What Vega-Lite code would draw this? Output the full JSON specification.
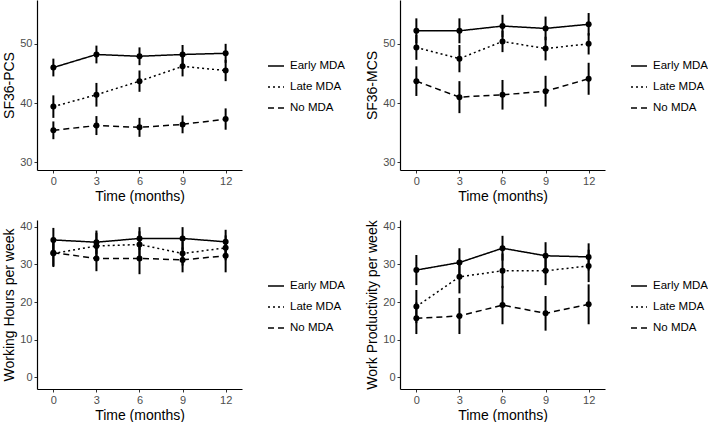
{
  "$schema": "https://vega.github.io/schema/vega-lite/v6.json",
  "padding": {"left": 2, "top": 0, "right": 0, "bottom": 0},
  "background": "white",
  "config": {
    "view": {"stroke": null},
    "font": "Liberation Sans",
    "axis": {
      "grid": false, "domainColor": "black", "domainWidth": 1.2,
      "tickColor": "#333333", "tickWidth": 1, "tickSize": 3,
      "labelColor": "#4d4d4d", "labelFontSize": 11, "labelFont": "Liberation Sans", "labelPadding": 2,
      "titleFont": "Liberation Sans", "titleFontSize": 14, "titleFontWeight": "normal", "titleColor": "black", "titlePadding": 3
    },
    "legend": {
      "orient": "none", "legendX": 230, "legendY": 57, "padding": 0,
      "symbolType": "stroke", "symbolSize": 256, "symbolStrokeWidth": 1.5, "symbolStrokeColor": "black",
      "labelFontSize": 11.5, "labelFont": "Liberation Sans", "labelColor": "black", "labelOffset": 5, "rowPadding": 6
    }
  },
  "datasets": {
    "d": [
      {"m": "PCS", "g": "Early MDA", "t": 0, "v": 46.0, "lo": 44.5, "hi": 47.5},
      {"m": "PCS", "g": "Early MDA", "t": 3, "v": 48.2, "lo": 46.7, "hi": 49.7},
      {"m": "PCS", "g": "Early MDA", "t": 6, "v": 47.9, "lo": 46.4, "hi": 49.4},
      {"m": "PCS", "g": "Early MDA", "t": 9, "v": 48.2, "lo": 46.6, "hi": 49.8},
      {"m": "PCS", "g": "Early MDA", "t": 12, "v": 48.4, "lo": 46.8, "hi": 50.0},
      {"m": "PCS", "g": "Late MDA", "t": 0, "v": 39.4, "lo": 37.5, "hi": 41.3},
      {"m": "PCS", "g": "Late MDA", "t": 3, "v": 41.4, "lo": 39.4, "hi": 43.4},
      {"m": "PCS", "g": "Late MDA", "t": 6, "v": 43.7, "lo": 41.9, "hi": 45.5},
      {"m": "PCS", "g": "Late MDA", "t": 9, "v": 46.2, "lo": 44.5, "hi": 47.9},
      {"m": "PCS", "g": "Late MDA", "t": 12, "v": 45.5, "lo": 43.7, "hi": 47.3},
      {"m": "PCS", "g": "No MDA", "t": 0, "v": 35.4, "lo": 33.9, "hi": 36.9},
      {"m": "PCS", "g": "No MDA", "t": 3, "v": 36.2, "lo": 34.6, "hi": 37.8},
      {"m": "PCS", "g": "No MDA", "t": 6, "v": 35.9, "lo": 34.3, "hi": 37.5},
      {"m": "PCS", "g": "No MDA", "t": 9, "v": 36.4, "lo": 34.9, "hi": 37.9},
      {"m": "PCS", "g": "No MDA", "t": 12, "v": 37.3, "lo": 35.5, "hi": 39.1},
      {"m": "MCS", "g": "Early MDA", "t": 0, "v": 52.2, "lo": 50.1, "hi": 54.3},
      {"m": "MCS", "g": "Early MDA", "t": 3, "v": 52.2, "lo": 50.1, "hi": 54.3},
      {"m": "MCS", "g": "Early MDA", "t": 6, "v": 53.0, "lo": 51.1, "hi": 54.9},
      {"m": "MCS", "g": "Early MDA", "t": 9, "v": 52.6, "lo": 50.6, "hi": 54.6},
      {"m": "MCS", "g": "Early MDA", "t": 12, "v": 53.3, "lo": 51.4, "hi": 55.2},
      {"m": "MCS", "g": "Late MDA", "t": 0, "v": 49.4, "lo": 47.3, "hi": 51.5},
      {"m": "MCS", "g": "Late MDA", "t": 3, "v": 47.5, "lo": 45.2, "hi": 49.8},
      {"m": "MCS", "g": "Late MDA", "t": 6, "v": 50.4, "lo": 48.6, "hi": 52.2},
      {"m": "MCS", "g": "Late MDA", "t": 9, "v": 49.2, "lo": 47.2, "hi": 51.2},
      {"m": "MCS", "g": "Late MDA", "t": 12, "v": 50.0, "lo": 48.2, "hi": 51.8},
      {"m": "MCS", "g": "No MDA", "t": 0, "v": 43.7, "lo": 41.2, "hi": 46.2},
      {"m": "MCS", "g": "No MDA", "t": 3, "v": 41.0, "lo": 38.3, "hi": 43.7},
      {"m": "MCS", "g": "No MDA", "t": 6, "v": 41.4, "lo": 38.9, "hi": 43.9},
      {"m": "MCS", "g": "No MDA", "t": 9, "v": 42.0, "lo": 39.4, "hi": 44.6},
      {"m": "MCS", "g": "No MDA", "t": 12, "v": 44.1, "lo": 41.4, "hi": 46.8},
      {"m": "WH", "g": "Early MDA", "t": 0, "v": 36.5, "lo": 33.3, "hi": 39.7},
      {"m": "WH", "g": "Early MDA", "t": 3, "v": 35.9, "lo": 32.8, "hi": 39.0},
      {"m": "WH", "g": "Early MDA", "t": 6, "v": 36.9, "lo": 33.9, "hi": 39.9},
      {"m": "WH", "g": "Early MDA", "t": 9, "v": 36.9, "lo": 33.9, "hi": 39.9},
      {"m": "WH", "g": "Early MDA", "t": 12, "v": 36.0, "lo": 32.8, "hi": 39.2},
      {"m": "WH", "g": "Late MDA", "t": 0, "v": 32.9, "lo": 29.6, "hi": 36.2},
      {"m": "WH", "g": "Late MDA", "t": 3, "v": 34.9, "lo": 31.4, "hi": 38.4},
      {"m": "WH", "g": "Late MDA", "t": 6, "v": 35.3, "lo": 31.8, "hi": 38.8},
      {"m": "WH", "g": "Late MDA", "t": 9, "v": 32.9, "lo": 29.7, "hi": 36.1},
      {"m": "WH", "g": "Late MDA", "t": 12, "v": 34.4, "lo": 31.1, "hi": 37.7},
      {"m": "WH", "g": "No MDA", "t": 0, "v": 33.1, "lo": 29.3, "hi": 36.9},
      {"m": "WH", "g": "No MDA", "t": 3, "v": 31.6, "lo": 28.2, "hi": 35.0},
      {"m": "WH", "g": "No MDA", "t": 6, "v": 31.6, "lo": 27.4, "hi": 35.8},
      {"m": "WH", "g": "No MDA", "t": 9, "v": 31.2, "lo": 27.9, "hi": 34.5},
      {"m": "WH", "g": "No MDA", "t": 12, "v": 32.3, "lo": 27.9, "hi": 36.7},
      {"m": "WP", "g": "Early MDA", "t": 0, "v": 28.5, "lo": 24.5, "hi": 32.5},
      {"m": "WP", "g": "Early MDA", "t": 3, "v": 30.5, "lo": 26.7, "hi": 34.3},
      {"m": "WP", "g": "Early MDA", "t": 6, "v": 34.3, "lo": 31.0, "hi": 37.6},
      {"m": "WP", "g": "Early MDA", "t": 9, "v": 32.3, "lo": 28.7, "hi": 35.9},
      {"m": "WP", "g": "Early MDA", "t": 12, "v": 32.0, "lo": 28.4, "hi": 35.6},
      {"m": "WP", "g": "Late MDA", "t": 0, "v": 18.8, "lo": 14.4, "hi": 23.2},
      {"m": "WP", "g": "Late MDA", "t": 3, "v": 26.7, "lo": 22.3, "hi": 31.1},
      {"m": "WP", "g": "Late MDA", "t": 6, "v": 28.3, "lo": 23.7, "hi": 32.9},
      {"m": "WP", "g": "Late MDA", "t": 9, "v": 28.3, "lo": 24.5, "hi": 32.1},
      {"m": "WP", "g": "Late MDA", "t": 12, "v": 29.6, "lo": 25.3, "hi": 33.9},
      {"m": "WP", "g": "No MDA", "t": 0, "v": 15.7, "lo": 11.5, "hi": 19.9},
      {"m": "WP", "g": "No MDA", "t": 3, "v": 16.3, "lo": 11.5, "hi": 21.1},
      {"m": "WP", "g": "No MDA", "t": 6, "v": 19.2, "lo": 14.1, "hi": 24.3},
      {"m": "WP", "g": "No MDA", "t": 9, "v": 17.0, "lo": 12.4, "hi": 21.6},
      {"m": "WP", "g": "No MDA", "t": 12, "v": 19.4, "lo": 14.1, "hi": 24.7}
    ]
  },
  "spacing": 16,
  "resolve": {"scale": {"strokeDash": "independent"}, "legend": {"strokeDash": "independent"}},
  "vconcat": [
    {
      "spacing": 20,
      "resolve": {"scale": {"strokeDash": "independent"}, "legend": {"strokeDash": "independent"}},
      "hconcat": [
        {
          "width": 205, "height": 170,
          "data": {"name": "d"},
          "transform": [{"filter": "datum.m == 'PCS'"}],
          "encoding": {"x": {"field": "t", "type": "quantitative", "scale": {"domain": [-1.14, 13.14], "nice": false, "zero": false}, "axis": {"values": [0, 3, 6, 9, 12], "title": "Time (months)"}}},
          "layer": [
            {"mark": {"type": "rule", "strokeWidth": 2, "color": "black"}, "encoding": {"y": {"field": "lo", "type": "quantitative", "scale": {"domain": [28.7, 57.4], "nice": false, "zero": false}, "axis": {"values": [30, 35, 40, 45, 50, 55], "title": "SF36-PCS"}}, "y2": {"field": "hi"}}},
            {"mark": {"type": "line", "strokeWidth": 1.5, "color": "black"}, "encoding": {"y": {"field": "v", "type": "quantitative", "title": "SF36-PCS"}, "strokeDash": {"field": "g", "type": "nominal", "scale": {"domain": ["Early MDA", "Late MDA", "No MDA"], "range": [[1, 0], [2, 3], [6, 4]]}, "legend": {"title": null}}}},
            {"mark": {"type": "point", "filled": true, "size": 36, "color": "black", "opacity": 1}, "encoding": {"y": {"field": "v", "type": "quantitative", "title": "SF36-PCS"}}}
          ]
        },
        {
          "width": 205, "height": 170,
          "data": {"name": "d"},
          "transform": [{"filter": "datum.m == 'MCS'"}],
          "encoding": {"x": {"field": "t", "type": "quantitative", "scale": {"domain": [-1.14, 13.14], "nice": false, "zero": false}, "axis": {"values": [0, 3, 6, 9, 12], "title": "Time (months)"}}},
          "layer": [
            {"mark": {"type": "rule", "strokeWidth": 2, "color": "black"}, "encoding": {"y": {"field": "lo", "type": "quantitative", "scale": {"domain": [28.7, 57.4], "nice": false, "zero": false}, "axis": {"values": [30, 35, 40, 45, 50, 55], "title": "SF36-MCS"}}, "y2": {"field": "hi"}}},
            {"mark": {"type": "line", "strokeWidth": 1.5, "color": "black"}, "encoding": {"y": {"field": "v", "type": "quantitative", "title": "SF36-MCS"}, "strokeDash": {"field": "g", "type": "nominal", "scale": {"domain": ["Early MDA", "Late MDA", "No MDA"], "range": [[1, 0], [2, 3], [6, 4]]}, "legend": {"title": null}}}},
            {"mark": {"type": "point", "filled": true, "size": 36, "color": "black", "opacity": 1}, "encoding": {"y": {"field": "v", "type": "quantitative", "title": "SF36-MCS"}}}
          ]
        }
      ]
    },
    {
      "spacing": 20,
      "resolve": {"scale": {"strokeDash": "independent"}, "legend": {"strokeDash": "independent"}},
      "hconcat": [
        {
          "width": 205, "height": 169,
          "data": {"name": "d"},
          "transform": [{"filter": "datum.m == 'WH'"}],
          "encoding": {"x": {"field": "t", "type": "quantitative", "scale": {"domain": [-1.14, 13.14], "nice": false, "zero": false}, "axis": {"values": [0, 3, 6, 9, 12], "title": "Time (months)"}}},
          "layer": [
            {"mark": {"type": "rule", "strokeWidth": 2, "color": "black"}, "encoding": {"y": {"field": "lo", "type": "quantitative", "scale": {"domain": [-3.1, 41.8], "nice": false, "zero": false}, "axis": {"values": [0, 5, 10, 15, 20, 25, 30, 35, 40], "title": "Working Hours per week"}}, "y2": {"field": "hi"}}},
            {"mark": {"type": "line", "strokeWidth": 1.5, "color": "black"}, "encoding": {"y": {"field": "v", "type": "quantitative", "title": "Working Hours per week"}, "strokeDash": {"field": "g", "type": "nominal", "scale": {"domain": ["Early MDA", "Late MDA", "No MDA"], "range": [[1, 0], [2, 3], [6, 4]]}, "legend": {"title": null}}}},
            {"mark": {"type": "point", "filled": true, "size": 36, "color": "black", "opacity": 1}, "encoding": {"y": {"field": "v", "type": "quantitative", "title": "Working Hours per week"}}}
          ]
        },
        {
          "width": 205, "height": 169,
          "data": {"name": "d"},
          "transform": [{"filter": "datum.m == 'WP'"}],
          "encoding": {"x": {"field": "t", "type": "quantitative", "scale": {"domain": [-1.14, 13.14], "nice": false, "zero": false}, "axis": {"values": [0, 3, 6, 9, 12], "title": "Time (months)"}}},
          "layer": [
            {"mark": {"type": "rule", "strokeWidth": 2, "color": "black"}, "encoding": {"y": {"field": "lo", "type": "quantitative", "scale": {"domain": [-3.1, 41.8], "nice": false, "zero": false}, "axis": {"values": [0, 5, 10, 15, 20, 25, 30, 35, 40], "title": "Work Productivity per week"}}, "y2": {"field": "hi"}}},
            {"mark": {"type": "line", "strokeWidth": 1.5, "color": "black"}, "encoding": {"y": {"field": "v", "type": "quantitative", "title": "Work Productivity per week"}, "strokeDash": {"field": "g", "type": "nominal", "scale": {"domain": ["Early MDA", "Late MDA", "No MDA"], "range": [[1, 0], [2, 3], [6, 4]]}, "legend": {"title": null}}}},
            {"mark": {"type": "point", "filled": true, "size": 36, "color": "black", "opacity": 1}, "encoding": {"y": {"field": "v", "type": "quantitative", "title": "Work Productivity per week"}}}
          ]
        }
      ]
    }
  ]
}
